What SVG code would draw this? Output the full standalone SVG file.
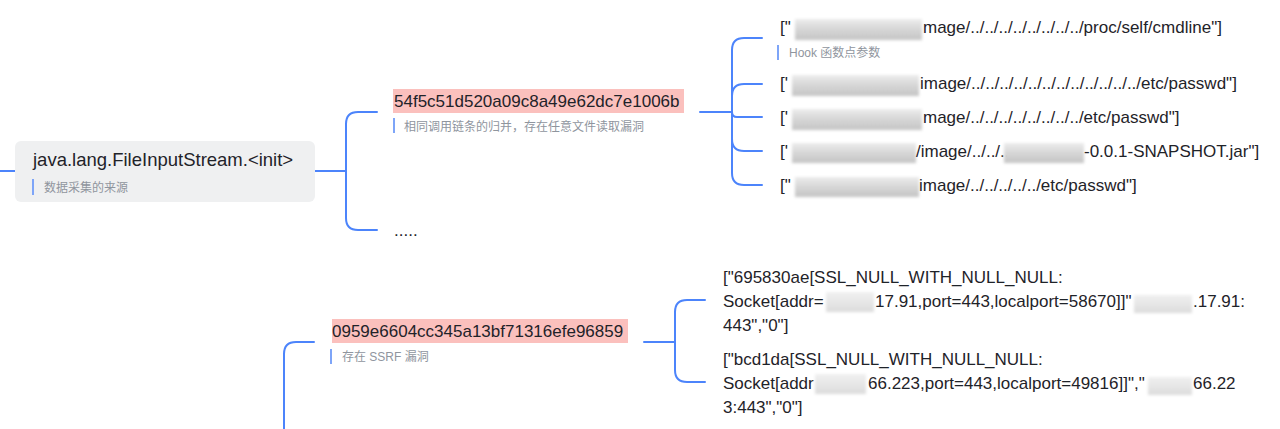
<svg xmlns="http://www.w3.org/2000/svg" width="1280" height="429" viewBox="0 0 1280 429">
<defs>
  <filter id="blur" x="-10%" y="-30%" width="120%" height="160%">
    <feGaussianBlur stdDeviation="1.6"/>
  </filter>
  <linearGradient id="mosaic" x1="0" y1="0" x2="0" y2="1">
    <stop offset="0" stop-color="#ececec"/>
    <stop offset="0.5" stop-color="#d6d6d6"/>
    <stop offset="1" stop-color="#c4c4c4"/>
  </linearGradient>
  <linearGradient id="mosaic2" x1="0" y1="0" x2="0" y2="1">
    <stop offset="0" stop-color="#f0f0f0"/>
    <stop offset="1" stop-color="#dcdcdc"/>
  </linearGradient>
</defs>
<style>
  text { font-family: "Liberation Sans", "Noto Sans CJK SC", sans-serif; fill: #1f2329; }
  .root { font-size: 18.5px; }
  .hash { font-size: 17px; }
  .item { font-size: 17px; }
  .note { font-size: 12px; fill: #8f959e; }
  .bar { fill: #7ea5f8; }
  .hl { fill: #fbc0bd; }
  .conn path { fill: none; stroke: #4c84fb; stroke-width: 2; stroke-linecap: round; stroke-linejoin: round; }
  .mask { fill: url(#mosaic); filter: url(#blur); }
  .mask2 { fill: url(#mosaic2); filter: url(#blur); }
</style>
<rect width="1280" height="429" fill="#ffffff"/>

<g class="conn" id="connectors">
  <path d="M0 171 H15"/>
  <path d="M315 171 H346"/>
  <path d="M346 171 V124 Q346 112 358 112 H377"/>
  <path d="M346 171 V218 Q346 230 358 230 H377"/>
  <path d="M700 112 H732"/>
  <path d="M732 112 V50 Q732 38 744 38 H762"/>
  <path d="M732 112 V96 Q732 84 744 84 H762"/>
  <path d="M732 112 Q732 117 737 117 H762"/>
  <path d="M732 112 V139 Q732 151 744 151 H762"/>
  <path d="M732 112 V173 Q732 185 744 185 H762"/>
  <path d="M284 431 V354 Q284 342 296 342 H314"/>
  <path d="M644 342 H675"/>
  <path d="M675 342 V312 Q675 300 687 300 H705"/>
  <path d="M675 342 V370 Q675 382 687 382 H705"/>
</g>

<g id="node-root">
  <rect x="15" y="141" width="300" height="61" rx="6" fill="#eff0f1"/>
  <text class="root" x="33" y="166">java.lang.FileInputStream.&lt;init&gt;</text>
  <rect class="bar" x="32" y="179" width="2" height="16"/>
  <text class="note" x="44" y="192">数据采集的来源</text>
</g>

<g id="node-hash1">
  <rect class="hl" x="393" y="89" width="291" height="24"/>
  <text class="hash" x="394" y="107">54f5c51d520a09c8a49e62dc7e1006b</text>
  <rect class="bar" x="393" y="118" width="2" height="15"/>
  <text class="note" x="404" y="131">相同调用链条的归并，存在任意文件读取漏洞</text>
</g>

<g id="node-more">
  <text class="hash" x="394" y="236">.....</text>
</g>

<g id="node-item1">
  <text class="item" x="780" y="33">["</text>
  <rect class="mask" x="795" y="19" width="127" height="21"/>
  <text class="item" x="923" y="33">mage/../../../../../../../../proc/self/cmdline"]</text>
  <rect class="bar" x="777" y="45" width="2" height="15"/>
  <text class="note" x="789" y="57">Hook 函数点参数</text>
</g>

<g id="node-item2">
  <text class="item" x="780" y="89">['</text>
  <rect class="mask" x="792" y="75" width="127" height="21"/>
  <text class="item" x="920" y="89">image/../../../../../../../../../../../../etc/passwd"]</text>
</g>

<g id="node-item3">
  <text class="item" x="780" y="123">['</text>
  <rect class="mask" x="792" y="109" width="130" height="21"/>
  <text class="item" x="923" y="123">mage/../../../../../../../../etc/passwd"]</text>
</g>

<g id="node-item4">
  <text class="item" x="780" y="157">['</text>
  <rect class="mask" x="792" y="143" width="124" height="20"/>
  <text class="item" x="916" y="157">/image/../../..</text>
  <rect class="mask" x="1004" y="143" width="80" height="20"/>
  <text class="item" x="1084" y="157">-0.0.1-SNAPSHOT.jar"]</text>
</g>

<g id="node-item5">
  <text class="item" x="780" y="191">["</text>
  <rect class="mask" x="795" y="177" width="124" height="20"/>
  <text class="item" x="919" y="191">image/../../../../../etc/passwd"]</text>
</g>

<g id="node-hash2">
  <rect class="hl" x="332" y="319" width="296" height="24"/>
  <text class="hash" x="332" y="337">0959e6604cc345a13bf71316efe96859</text>
  <rect class="bar" x="330" y="349" width="2" height="15"/>
  <text class="note" x="342" y="361">存在 SSRF 漏洞</text>
</g>

<g id="node-ssl1">
  <text class="item" x="723" y="283">["695830ae[SSL_NULL_WITH_NULL_NULL:</text>
  <text class="item" x="723" y="307">Socket[addr=</text>
  <rect class="mask2" x="826" y="292" width="48" height="20"/>
  <text class="item" x="875" y="307">17.91,port=443,localport=58670]]"</text>
  <rect class="mask2" x="1134" y="295" width="58" height="18"/>
  <text class="item" x="1193" y="307">.17.91:</text>
  <text class="item" x="723" y="331">443","0"]</text>
</g>

<g id="node-ssl2">
  <text class="item" x="723" y="365">["bcd1da[SSL_NULL_WITH_NULL_NULL:</text>
  <text class="item" x="723" y="389">Socket[addr</text>
  <rect class="mask2" x="815" y="374" width="51" height="20"/>
  <text class="item" x="868" y="389">66.223,port=443,localport=49816]]","</text>
  <rect class="mask2" x="1148" y="377" width="44" height="18"/>
  <text class="item" x="1193" y="389">66.22</text>
  <text class="item" x="723" y="413">3:443","0"]</text>
</g>
</svg>
